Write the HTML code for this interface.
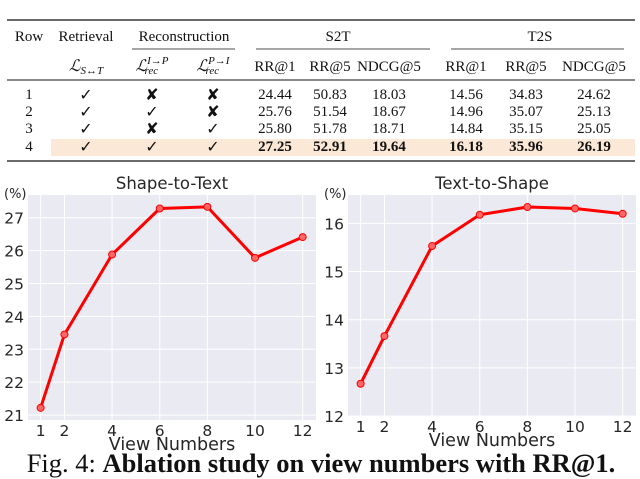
<!DOCTYPE html>
<html><head><meta charset="utf-8"><style>
body{margin:0;background:#fff;width:640px;height:479px;overflow:hidden}
svg{display:block}
.t{font-family:"Liberation Serif",serif;font-size:15px;fill:#111}
.s{font-family:"DejaVu Sans",sans-serif;fill:#262626}
</style></head><body>
<svg width="640" height="479" viewBox="0 0 640 479">
<g>
<rect x="51" y="139" width="584" height="17" fill="#fce8d6"/>
<line x1="7" y1="20" x2="635" y2="20" stroke="#111" stroke-width="1.3"/>
<line x1="7" y1="80" x2="635" y2="80" stroke="#111" stroke-width="1"/>
<line x1="7" y1="161" x2="635" y2="161" stroke="#111" stroke-width="1.3"/>
<line x1="132" y1="49" x2="235" y2="49" stroke="#111" stroke-width="0.8"/>
<line x1="256" y1="49" x2="430" y2="49" stroke="#111" stroke-width="0.8"/>
<line x1="451" y1="49" x2="624" y2="49" stroke="#111" stroke-width="0.8"/>
<g class="t" text-anchor="middle">
<text x="29" y="41">Row</text><text x="86" y="41">Retrieval</text><text x="184" y="41">Reconstruction</text>
<text x="338" y="41">S2T</text><text x="540" y="41">T2S</text>
<text x="86" y="71" font-style="italic" font-size="16">ℒ<tspan font-size="11" dy="3">S↔T</tspan></text>
<text x="152" y="71" font-style="italic" font-size="16">ℒ<tspan font-size="11" dy="-7">I→P</tspan><tspan font-size="11" dx="-24" dy="10">rec</tspan></text>
<text x="213" y="71" font-style="italic" font-size="16">ℒ<tspan font-size="11" dy="-7">P→I</tspan><tspan font-size="11" dx="-24" dy="10">rec</tspan></text>
<text x="275" y="71">RR@1</text><text x="330" y="71">RR@5</text><text x="389" y="71">NDCG@5</text>
<text x="466" y="71">RR@1</text><text x="526" y="71">RR@5</text><text x="594" y="71">NDCG@5</text>
<g font-family="DejaVu Sans,sans-serif" font-size="16" font-weight="bold">
<text x="86" y="100">✓</text><text x="152" y="100">✘</text><text x="213" y="100">✘</text>
<text x="86" y="117">✓</text><text x="152" y="117">✓</text><text x="213" y="117">✘</text>
<text x="86" y="134">✓</text><text x="152" y="134">✘</text><text x="213" y="134">✓</text>
<text x="86" y="152">✓</text><text x="152" y="152">✓</text><text x="213" y="152">✓</text>
</g>
<text x="29" y="99">1</text><text x="275" y="99">24.44</text><text x="330" y="99">50.83</text><text x="389" y="99">18.03</text><text x="466" y="99">14.56</text><text x="526" y="99">34.83</text><text x="594" y="99">24.62</text>
<text x="29" y="116">2</text><text x="275" y="116">25.76</text><text x="330" y="116">51.54</text><text x="389" y="116">18.67</text><text x="466" y="116">14.96</text><text x="526" y="116">35.07</text><text x="594" y="116">25.13</text>
<text x="29" y="133">3</text><text x="275" y="133">25.80</text><text x="330" y="133">51.78</text><text x="389" y="133">18.71</text><text x="466" y="133">14.84</text><text x="526" y="133">35.15</text><text x="594" y="133">25.05</text>
<text x="29" y="151">4</text>
<g font-weight="bold"><text x="275" y="151">27.25</text><text x="330" y="151">52.91</text><text x="389" y="151">19.64</text><text x="466" y="151">16.18</text><text x="526" y="151">35.96</text><text x="594" y="151">26.19</text></g>
</g></g>
<g id="charts"></g>
<text x="321" y="472" text-anchor="middle" font-family="Liberation Serif,serif" font-size="26.5" fill="#111">Fig. 4: <tspan font-weight="bold">Ablation study on view numbers with RR@1.</tspan></text>
</svg>
<script>
const views=[1,2,4,6,8,10,12];
const s2tValues=[21.22,23.45,25.88,27.28,27.33,25.78,26.41];
const t2sValues=[12.67,13.66,15.53,16.18,16.34,16.31,16.20];
const s2tTicks=[21,22,23,24,25,26,27];
const t2sTicks=[12,13,14,15,16];
const xTicks=[1,2,4,6,8,10,12];
const NS='http://www.w3.org/2000/svg';
const root=document.getElementById('charts');
function mk(tag,attrs,parent){const e=document.createElementNS(NS,tag);for(const k in attrs)e.setAttribute(k,attrs[k]);(parent||root).appendChild(e);return e;}
function chart(name,title,x0,x1,y0,y1,ymin,ymax,vals,yt){
 const g=mk('g',{});
 
 
 const xs=v=>x0+(v-0.47)/(12.56-0.47)*(x1-x0);
 const ys=v=>y1-(v-ymin)/(ymax-ymin)*(y1-y0);
 const bg=mk('rect',{x:x0,y:y0,width:x1-x0,height:y1-y0,fill:'#eaeaf2'},g);
 
 
 yt.forEach(t=>{mk('line',{x1:x0,x2:x1,y1:ys(t),y2:ys(t),stroke:'#fff','stroke-width':1},g);
  const l=mk('text',{x:x0-4,y:ys(t)+6,'text-anchor':'end','font-size':15.5,class:'s'},g);l.textContent=t;
  
  });
 xTicks.forEach(t=>{mk('line',{x1:xs(t),x2:xs(t),y1:y0,y2:y1,stroke:'#fff','stroke-width':1},g);
  const l=mk('text',{x:xs(t),y:y1+16,'text-anchor':'middle','font-size':15.5,class:'s'},g);l.textContent=t;
  
  });
 const pts=vals.map((v,i)=>xs(views[i])+','+ys(v)).join(' ');
 const pl=mk('polyline',{points:pts,fill:'none',stroke:'#ff0000','stroke-width':3,'stroke-linejoin':'round'},g);
 
 
 vals.forEach((v,i)=>{const c=mk('circle',{cx:xs(views[i]),cy:ys(v),r:3.5,fill:'#ff6666',stroke:'#ff0000','stroke-width':1},g);
  
  });
 const tt=mk('text',{x:(x0+x1)/2,y:y0-6,'text-anchor':'middle','font-size':16.5,class:'s'},g);tt.textContent=title;
 
 
 const u=mk('text',{x:x0-24,y:y0+3,'font-size':13,class:'s'},g);u.textContent='(%)';
 
 
 const xl=mk('text',{x:(x0+x1)/2,y:y1+30,'text-anchor':'middle','font-size':17.5,class:'s'},g);xl.textContent='View Numbers';
 
 
}
chart('shape-to-text-chart','Shape-to-Text',28,316,195,420,20.85,27.69,s2tValues,s2tTicks);
chart('text-to-shape-chart','Text-to-Shape',348,636,195,416,12,16.59,t2sValues,t2sTicks);
</script>
</body></html>
